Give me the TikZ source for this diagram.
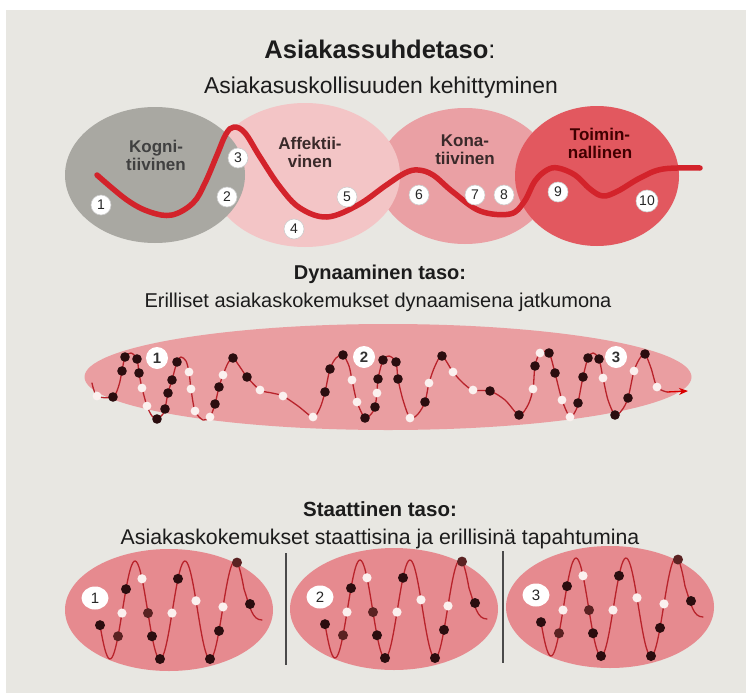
\documentclass[tikz,border=0pt]{standalone}
\usepackage{fontspec}
\setmainfont{Liberation Sans}
\usetikzlibrary{shapes.geometric,arrows.meta}
\definecolor{bgc}{HTML}{E8E7E2}
\definecolor{titlec}{HTML}{1C1C1C}
\definecolor{kogc}{HTML}{A9A8A2}
\definecolor{affc}{HTML}{F3C5C6}
\definecolor{konc}{HTML}{EAA0A4}
\definecolor{toic}{HTML}{E2585F}
\definecolor{wavec}{HTML}{D3232B}
\definecolor{dync}{HTML}{EA9EA1}
\definecolor{statc}{HTML}{E68A8F}
\definecolor{thinc}{HTML}{B8232B}
\definecolor{blkc}{HTML}{2B0D0F}
\definecolor{brnc}{HTML}{5A2222}
\definecolor{whtc}{HTML}{FBF1EF}
\definecolor{labc}{HTML}{3A2A2A}
\definecolor{sepc}{HTML}{4A4A4A}
\begin{document}
\begin{tikzpicture}[x=1pt,y=-1pt,
  ttl/.style={font=\bfseries\fontsize{25.5}{28}\selectfont, text=titlec, anchor=base, inner sep=0},
  sub/.style={font=\fontsize{22.9}{25}\selectfont, text=titlec, anchor=base, inner sep=0},
  elab/.style={font=\bfseries\fontsize{17}{18}\selectfont, align=center, inner sep=0, text=labc},
  blob/.style={ellipse, inner sep=0, draw=none},
  numc/.style={circle, fill=white, draw=black!20, line width=0.6pt, inner sep=0, minimum size=20pt, font=\fontsize{14}{14}\selectfont, text=black!85},
  dnum/.style={circle, fill=white, inner sep=0, minimum size=22pt, font=\bfseries\fontsize{15}{15}\selectfont, text=black!80},
  snum/.style={ellipse, fill=white, inner sep=0, minimum width=27pt, minimum height=23pt, font=\fontsize{15}{15}\selectfont, text=black!85},
  topwave/.style={draw=wavec, line width=5.5pt, line cap=round, line join=round},
  thinwave/.style={draw=thinc, line width=1.3pt, line cap=round},
  bdot/.style={fill=blkc},
  ddot/.style={fill=brnc},
  wdot/.style={fill=whtc}
]
\useasboundingbox (0,0) rectangle (746,693);
\fill[white] (0,0) rectangle (746,693);
\fill[bgc] (6,10) rectangle (746,693);

% ---------- Top level ----------
\node[ttl] (t1) at (380,59) {Asiakassuhdetaso\textmd{:}};
\node[sub] (s1) at (381,93) {Asiakasuskollisuuden kehittyminen};

\node[blob, fill=konc, minimum width=176pt, minimum height=136pt] (kon) at (465,176) {};
\node[blob, fill=affc, minimum width=190pt, minimum height=144pt] (aff) at (305,175) {};
\node[blob, fill=kogc, minimum width=180pt, minimum height=136pt] (kog) at (155,175) {};
\node[blob, fill=toic, minimum width=164pt, minimum height=140pt] (toi) at (597,176) {};

\node[elab, text=black!75] (lkog) at (156,155) {Kogni-\\tiivinen};
\node[elab] (laff) at (310,152) {Affektii-\\vinen};
\node[elab] (lkon) at (465,150) {Kona-\\tiivinen};
\node[elab, text=black!75!red] (ltoi) at (600,143) {Toimin-\\nallinen};

\draw[topwave] plot[smooth, tension=0.6] coordinates {
 (97,175) (127,200) (150,212) (172,215) (193,203) (205,183) (217,155) (226,134)
 (234,127) (245,133) (260,157) (280,187) (300,208) (327,217) (358,205) (385,186)
 (405,173) (418,170) (433,175) (453,192) (480,211) (510,214) (524,202) (535,181)
 (547,170) (558,168) (575,175) (590,189) (603,196) (618,191) (640,178) (663,169) (700,168)};

\node[numc] (n1) at (101,205) {1};
\node[numc] (n2) at (227,197) {2};
\node[numc] (n3) at (238,158) {3};
\node[numc] (n4) at (294,229) {4};
\node[numc] (n5) at (347,197) {5};
\node[numc] (n6) at (419,195) {6};
\node[numc] (n7) at (475,195) {7};
\node[numc] (n8) at (504,195) {8};
\node[numc] (n9) at (558,192) {9};
\node[numc, minimum size=22pt] (n10) at (647,201) {10};

% ---------- Dynamic level ----------
\node[ttl, font=\bfseries\fontsize{20}{24}\selectfont] (t2) at (380,279) {Dynaaminen taso:};
\node[sub, font=\fontsize{20}{24}\selectfont] (s2) at (378,307) {Erilliset asiakaskokemukset dynaamisena jatkumona};

\node[blob, fill=dync, minimum width=607pt, minimum height=106pt] (dyn) at (388,377) {};

\draw[thinwave] plot[smooth, tension=0.5] coordinates {
 (92,383) (97,396) (113,397) (119,385) (122,371) (125,357) (131,353) (137,359) (139,373)
 (142,388) (147,406) (152,416) (157,419) (163,414) (165,409) (168,393) (172,380) (177,362)
 (181,357) (186,361) (189,372) (191,389) (195,411) (203,420) (210,417) (215,404) (219,387)
 (223,375) (228,363) (233,358) (240,367) (247,377) (260,390) (272,393) (283,396) (298,406)
 (313,417) (320,408) (325,392) (330,369) (336,358) (343,355) (349,366) (352,380) (357,402)
 (365,418) (372,413) (375,407) (377,393) (378,379) (383,360) (389,356) (396,362) (398,379)
 (403,400) (410,418) (418,414) (425,402) (429,383) (435,366) (442,356) (453,372) (463,383)
 (473,390) (490,391) (505,400) (519,415) (528,405) (533,389) (535,366) (540,353) (549,353)
 (555,373) (562,400) (570,417) (576,410) (578,403) (583,377) (588,358) (593,353) (599,359)
 (603,378) (608,400) (615,415) (622,410) (628,398) (634,371) (640,358) (645,354) (651,368)
 (657,387) (667,392)};
\draw[draw=red!85!black, line width=1.3pt, -{Stealth[length=9pt,width=7pt]}] (667,392) -- (688,391);

\foreach \a/\b in {113/397,122/371,125/357,137/359,139/373,157/419,165/409,168/393,172/380,
  177/362,215/404,219/387,233/358,247/377,325/392,330/369,343/355,365/418,375/407,378/379,
  383/360,396/362,398/379,425/402,442/356,490/391,519/415,535/366,549/353,555/373,578/403,
  583/377,588/358,599/359,615/415,628/398,645/354}
  \fill[bdot] (\a,\b) circle[radius=4.8pt];
\foreach \a/\b in {97/396,142/388,147/406,189/372,191/389,195/411,210/417,223/375,260/390,
  283/396,313/417,352/380,357/402,377/393,410/418,429/383,453/372,473/390,533/389,540/353,
  562/400,570/417,603/378,634/371,657/387}
  \fill[wdot] (\a,\b) circle[radius=4.4pt];

\node[dnum] (d1) at (157,358) {1};
\node[dnum] (d2) at (364,357) {2};
\node[dnum] (d3) at (616,357) {3};

% ---------- Static level ----------
\node[ttl, font=\bfseries\fontsize{20.5}{25}\selectfont] (t3) at (380,516) {Staattinen taso:};
\node[sub, font=\fontsize{21.3}{25}\selectfont] (s3) at (380,544) {Asiakaskokemukset staattisina ja erillisinä tapahtumina};

\draw[sepc, line width=1.8pt] (286,553) -- (286,665);
\draw[sepc, line width=1.8pt] (503,551) -- (503,663);

\foreach \dx/\dy/\lab in {0/0/1, 225/-1/2, 441/-3/3} {
  \begin{scope}[shift={(\dx,\dy)}]
    \node[blob, fill=statc, minimum width=208pt, minimum height=122pt] (se\lab) at (169,610) {};
    \draw[thinwave] plot[domain=100:244, samples=120, smooth] (\x,{610+49*cos(7.2*(\x-110))})
      .. controls (250,607) and (252,620) .. (262,620);
    \foreach \a in {100,126,152,160,178,210,219}
      \fill[bdot] (\a,{610+49*cos(7.2*(\a-110))}) circle[radius=5pt];
    \foreach \a in {118,148,237}
      \fill[ddot] (\a,{610+49*cos(7.2*(\a-110))}) circle[radius=5pt];
    \foreach \a in {122,142,172,196,223}
      \fill[wdot] (\a,{610+49*cos(7.2*(\a-110))}) circle[radius=4.6pt];
    \fill[bdot] (250,604) circle[radius=5pt];
    \node[snum] (sl\lab) at (95,598) {\lab};
  \end{scope}
}
\end{tikzpicture}
\end{document}
